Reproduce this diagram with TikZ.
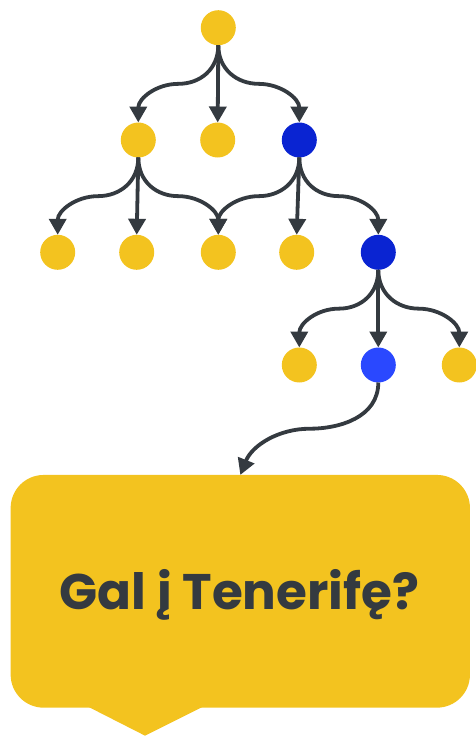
\documentclass[tikz,border=0pt]{standalone}
\usepackage{fontspec}
\setmainfont{Poppins}
\usetikzlibrary{arrows.meta,calc}
\definecolor{ylw}{HTML}{F3C31F}
\definecolor{dblue}{HTML}{0A24D2}
\definecolor{bblue}{HTML}{2A48FF}
\definecolor{ink}{HTML}{343A40}
\begin{document}
\begin{tikzpicture}[x=1pt,y=-1pt,
  dot/.style={circle,fill=ylw,minimum size=35pt,inner sep=0pt,outer sep=0pt},
  conn/.style={draw=ink,line width=3.8pt,-{Triangle[length=16pt,width=17pt]}},
  bubble/.style={fill=ylw,rounded corners=33pt,minimum width=459.3pt,minimum height=232.7pt,inner sep=0pt,outer sep=0pt}]
\useasboundingbox (0,0) rectangle (475,736);
% nodes
\node[dot] (r) at (218.3,27.7) {};
\node[dot] (a) at (138.3,140) {};
\node[dot] (b) at (217.7,140) {};
\node[dot,fill=dblue] (c) at (299.3,140) {};
\node[dot] (d1) at (57.7,252.3) {};
\node[dot] (d2) at (136.7,252.3) {};
\node[dot] (d3) at (218.3,252.3) {};
\node[dot] (d4) at (296.7,252.3) {};
\node[dot,fill=dblue] (e) at (378.3,252.3) {};
\node[dot] (f1) at (299.3,365) {};
\node[dot,fill=bblue] (f2) at (378.3,365) {};
\node[dot] (f3) at (459.3,365) {};
% bubble
\node[bubble] (box) at (240.3,591.3) {};
\fill[ylw] ([xshift=-152.3pt,yshift=1pt]box.south) -- ([xshift=-95.3pt,yshift=-28pt]box.south) -- ([xshift=-37.3pt,yshift=1pt]box.south) -- cycle;
\node[anchor=base,text=ink,font=\fontsize{50}{60}\selectfont\bfseries,inner sep=0pt] (lbl) at (239.5,609) {Gal į Tenerifę?};
% connectors
\draw[conn] (r.south) .. controls +(0,24) and +(22,0) .. ($(r.south)!0.5!(a.north)$) .. controls +(-22,0) and +(0,-24) .. (a.north);
\draw[conn] (r.south) -- (b.north);
\draw[conn] (r.south) .. controls +(0,24) and +(-22,0) .. ($(r.south)!0.5!(c.north)$) .. controls +(22,0) and +(0,-24) .. (c.north);
\draw[conn] (a.south) .. controls +(0,24) and +(22,0) .. ($(a.south)!0.5!(d1.north)$) .. controls +(-22,0) and +(0,-24) .. (d1.north);
\draw[conn] (a.south) -- (d2.north);
\draw[conn] (a.south) .. controls +(0,24) and +(-22,0) .. ($(a.south)!0.5!(d3.north)$) .. controls +(22,0) and +(0,-24) .. (d3.north);
\draw[conn] (c.south) .. controls +(0,24) and +(22,0) .. ($(c.south)!0.5!(d3.north)$) .. controls +(-22,0) and +(0,-24) .. (d3.north);
\draw[conn] (c.south) -- (d4.north);
\draw[conn] (c.south) .. controls +(0,24) and +(-22,0) .. ($(c.south)!0.5!(e.north)$) .. controls +(22,0) and +(0,-24) .. (e.north);
\draw[conn] (e.south) .. controls +(0,24) and +(22,0) .. ($(e.south)!0.5!(f1.north)$) .. controls +(-22,0) and +(0,-24) .. (f1.north);
\draw[conn] (e.south) -- (f2.north);
\draw[conn] (e.south) .. controls +(0,24) and +(-22,0) .. ($(e.south)!0.5!(f3.north)$) .. controls +(22,0) and +(0,-24) .. (f3.north);
\draw[conn] (f2.south) .. controls +(0,35) and +(30,0) .. ($(f2.south)!0.5!(box.north)$) .. controls +(-30,0) and +(12,-30) .. (box.north);
\end{tikzpicture}
\end{document}
